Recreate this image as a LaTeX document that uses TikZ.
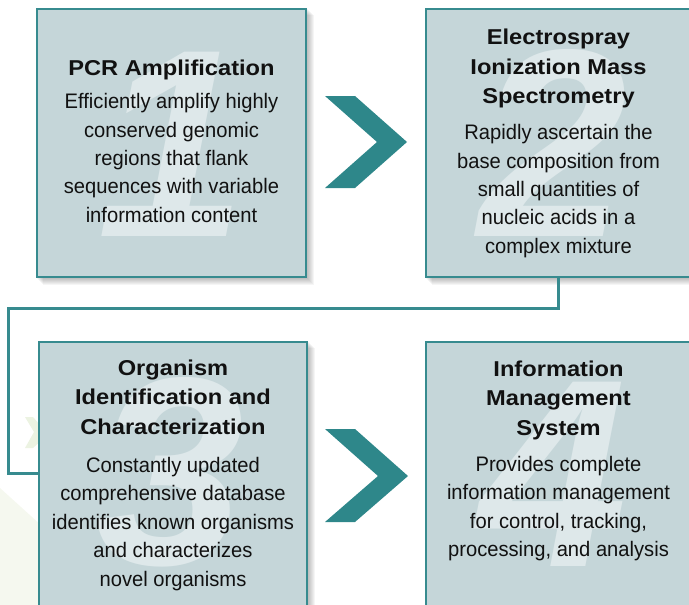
\documentclass[tikz,border=0pt]{standalone}
\usepackage{fontspec}
\setmainfont{Liberation Sans}
\newfontfamily\bodyfont[FakeStretch=0.96]{Liberation Sans}
\newfontfamily\titlefont[FakeStretch=1.1]{Liberation Sans}
\usetikzlibrary{backgrounds}
\definecolor{boxfill}{RGB}{197,214,217}
\definecolor{numc}{RGB}{222,232,234}
\definecolor{tealc}{RGB}{55,139,143}
\definecolor{chevc}{RGB}{46,135,138}
\definecolor{palegreen}{RGB}{245,248,239}
\definecolor{palegreen2}{RGB}{236,243,226}
\definecolor{txt}{RGB}{17,17,17}
\tikzset{
  box/.style={draw=tealc, line width=2.5pt, fill=boxfill, minimum height=268pt, inner sep=0pt},
  ttl/.style={font=\titlefont\bfseries\fontsize{21.5}{29.3}\selectfont, align=center, anchor=base, inner sep=0pt, text=txt},
  bdy/.style={font=\bodyfont\fontsize{21}{28.4}\selectfont, align=center, anchor=base, inner sep=0pt, text=txt},
  num/.style={font=\fontsize{268}{268}\selectfont\bfseries\itshape, text=numc, inner sep=0pt},
  chev/.style={fill=chevc},
  conn/.style={draw=tealc, line width=3pt},
  shd/.style={fill=black, opacity=0.04}
}
\begin{document}
\begin{tikzpicture}[x=1pt,y=-1pt]
\useasboundingbox (0,0) rectangle (689,605);
\clip (0,0) rectangle (689,605);
% faint background shapes
\fill[palegreen] (0,488) -- (42,526) -- (42,605) -- (0,605) -- cycle;
\fill[palegreen2] (25,417) -- (33,417) -- (42,427) -- (42,440) -- (33,448) -- (25,448) -- (34,432) -- cycle;
% connector
\coordinate (c1) at (8,308);
\coordinate (c2) at (8,473);
% boxes
\node[box, minimum width=269pt] (b1) at (171.5,143) {};
\node[box, minimum width=265pt] (b2) at (558.5,143) {};
\node[box, minimum width=268pt] (b3) at (173,476) {};
\node[box, minimum width=265pt] (b4) at (558.5,476) {};
\begin{scope}[on background layer]
  \foreach \b in {b1,b2,b3,b4}{
    \foreach \d in {1,...,7}{
      \fill[shd] ([shift={(\d pt,-\d pt)}]\b.north west) rectangle ([shift={(\d pt,-\d pt)}]\b.south east);
    }
  }
  \draw[conn] (b2.south) |- (c1) -- (c2) -- (c2 -| b3.west);
\end{scope}
% big numbers
\node[num] (n1) at (172,144) {1};
\node[num] (n2) at (553,143) {2};
\node[num] (n3) at (170,472) {3};
\node[num] (n4) at (553,474) {4};
% chevrons
\fill[chev] (325,96) -- (355,96) -- (407,142) -- (355,188) -- (325,188) -- (377,142) -- cycle;
\fill[chev] (325,429) -- (355,429) -- (408,476) -- (355,522) -- (325,522) -- (378,476) -- cycle;
% texts (anchor = baseline of last line)
\node[ttl] (t1) at (171.5,75) {PCR Amplification};
\node[bdy] (d1) at (171.5,222.3) {Efficiently amplify highly\\conserved genomic\\regions that flank\\sequences with variable\\information content};
\node[ttl] (t2) at (558.5,103.5) {Electrospray\\Ionization Mass\\Spectrometry};
\node[bdy] (d2) at (558.5,253.3) {Rapidly ascertain the\\base composition from\\small quantities of\\nucleic acids in a\\complex mixture};
\node[ttl] (t3) at (173,434) {Organism\\Identification and\\Characterization};
\node[bdy] (d3) at (173,586) {Constantly updated\\comprehensive database\\identifies known organisms\\and characterizes\\novel organisms};
\node[ttl] (t4) at (558.5,435) {Information\\Management\\System};
\node[bdy] (d4) at (558.5,556.7) {Provides complete\\information management\\for control, tracking,\\processing, and analysis};
\end{tikzpicture}
\end{document}
